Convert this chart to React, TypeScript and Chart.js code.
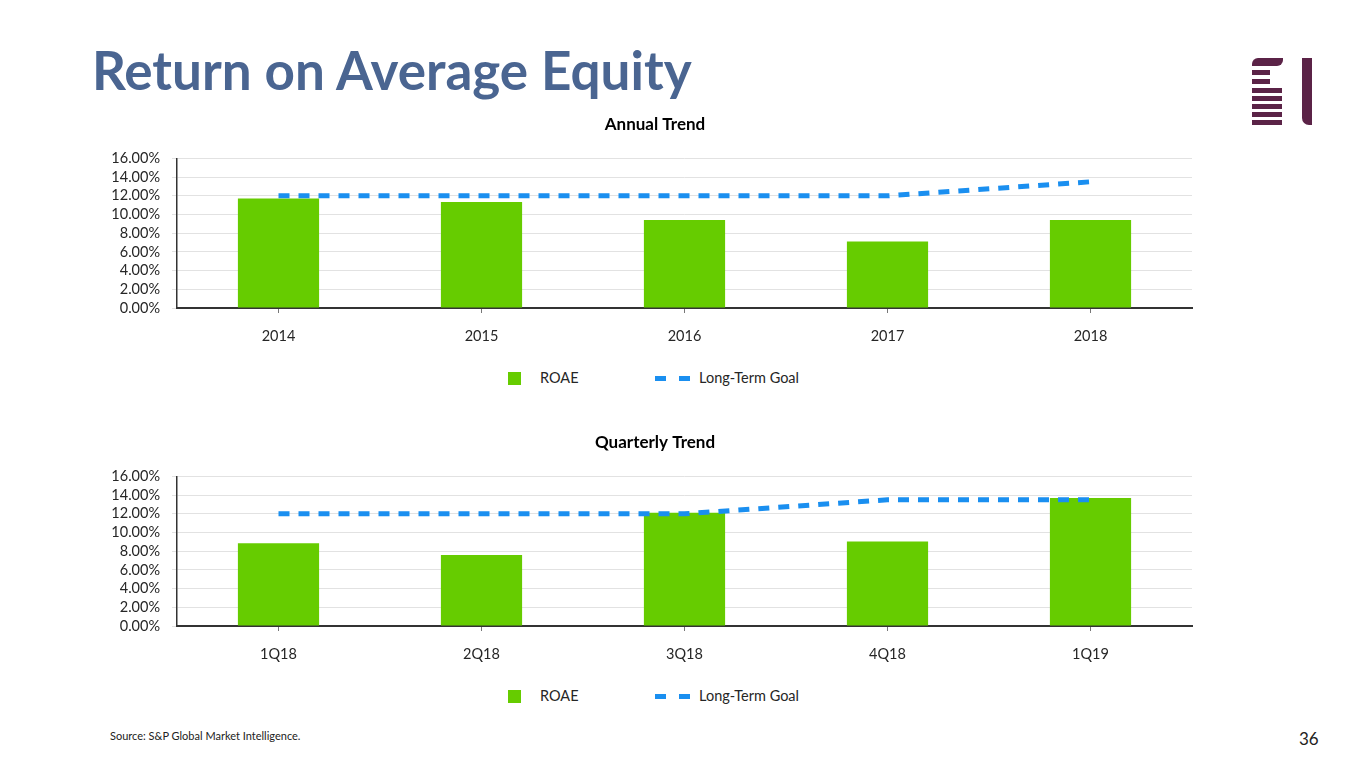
import React, { useEffect, useRef } from "react";
import { Chart, registerables } from "chart.js";

Chart.register(...registerables);

const annualCategories = ["2014", "2015", "2016", "2017", "2018"];
const annualRoae = [11.7, 11.35, 9.4, 7.1, 9.4];
const annualGoal = [12, 12, 12, 12, 13.5];

const quarterCategories = ["1Q18", "2Q18", "3Q18", "4Q18", "1Q19"];
const quarterRoae = [8.85, 7.6, 12.1, 9.05, 13.7];
const quarterGoal = [12, 12, 12, 13.5, 13.5];

const yTickValues = [0, 2, 4, 6, 8, 10, 12, 14, 16];

const FONT = "Lato, 'Open Sans', sans-serif";
const GREEN = "#66cc00";
const BLUE = "#1a8ff0";

type TrendProps = {
  title: string;
  categories: string[];
  roae: number[];
  goal: number[];
  top: number;
};

function Trend({ title, categories, roae, goal, top }: TrendProps) {
  const ref = useRef<HTMLCanvasElement | null>(null);
  useEffect(() => {
    if (!ref.current) return;
    const chart = new Chart(ref.current, {
      type: "bar",
      data: {
        labels: categories,
        datasets: [
          {
            type: "line",
            label: "Long-Term Goal",
            data: goal,
            borderColor: BLUE,
            borderWidth: 5,
            borderDash: [11, 9],
            borderCapStyle: "butt",
            pointRadius: 0,
            tension: 0,
            fill: false,
            order: 0,
          } as any,
          {
            type: "bar",
            label: "ROAE",
            data: roae,
            backgroundColor: GREEN,
            borderWidth: 0,
            categoryPercentage: 1,
            barPercentage: 0.4,
            order: 1,
          } as any,
        ],
      },
      options: {
        animation: false,
        responsive: true,
        maintainAspectRatio: false,
        layout: { padding: { left: 0, right: 0, top: 0, bottom: 0 } },
        plugins: {
          legend: { display: false },
          tooltip: { enabled: false },
          title: {
            display: true,
            text: title,
            color: "#000",
            font: { family: FONT, size: 17, weight: "bold" },
            padding: { top: 4, bottom: 24 },
          },
        },
        scales: {
          x: {
            offset: true,
            grid: {
              display: true,
              drawOnChartArea: false,
              drawTicks: true,
              tickLength: 5,
              offset: false,
              color: "#777",
            },
            border: { display: true, color: "#333", width: 2 },
            ticks: {
              color: "#262626",
              font: { family: FONT, size: 14.5 },
              padding: 15,
            },
            afterFit: (s: any) => {
              s.height = 43;
            },
          },
          y: {
            min: 0,
            max: 16,
            afterBuildTicks: (s: any) => {
              s.ticks = yTickValues.map((v) => ({ value: v }));
            },
            ticks: {
              autoSkip: false,
              color: "#262626",
              font: { family: FONT, size: 14.5 },
              padding: 12,
              callback: (v: any) => Number(v).toFixed(2) + "%",
            },
            grid: { color: "#e2e2e2", tickLength: 5 },
            border: { display: true, color: "#333", width: 1.5 },
            afterFit: (s: any) => {
              s.width = 89;
            },
          },
          spacer: {
            type: "linear",
            position: "right",
            display: true,
            ticks: { display: false },
            grid: { display: false, drawTicks: false },
            border: { display: false },
            afterFit: (s: any) => {
              s.width = 30;
            },
          },
        },
      } as any,
    });
    return () => chart.destroy();
  }, []);
  return (
    <>
      <div style={{ position: "absolute", left: 88, top, width: 1134, height: 241 }}>
        <canvas ref={ref} />
      </div>
      <div
        style={{
          position: "absolute",
          left: 0,
          top: top + 258,
          width: 1365,
          height: 20,
          fontFamily: FONT,
          fontSize: 14.5,
          color: "#262626",
        }}
      >
        <div style={{ position: "absolute", left: 508, top: 4, width: 13, height: 13, background: GREEN }} />
        <div style={{ position: "absolute", left: 540, top: 1 }}>ROAE</div>
        <div style={{ position: "absolute", left: 655, top: 8, width: 11, height: 5, background: BLUE }} />
        <div style={{ position: "absolute", left: 679, top: 8, width: 11, height: 5, background: BLUE }} />
        <div style={{ position: "absolute", left: 699, top: 1 }}>Long-Term Goal</div>
      </div>
    </>
  );
}

function Logo() {
  const c = "#5b2347";
  const bars = [
    { y: 70, w: 18 },
    { y: 79, w: 18 },
    { y: 88, w: 30 },
    { y: 96, w: 30 },
    { y: 104, w: 30 },
    { y: 112, w: 30 },
    { y: 120, w: 30 },
  ];
  return (
    <>
      <div
        style={{
          position: "absolute",
          left: 1252,
          top: 58,
          width: 31,
          height: 8,
          background: c,
          borderTopLeftRadius: 6,
          borderBottomRightRadius: 6,
        }}
      />
      {bars.map((b, i) => (
        <div key={i} style={{ position: "absolute", left: 1252, top: b.y, width: b.w, height: 5, background: c }} />
      ))}
      <div
        style={{
          position: "absolute",
          left: 1302,
          top: 58,
          width: 10,
          height: 67,
          background: c,
          borderBottomLeftRadius: 7,
        }}
      />
    </>
  );
}

export default function App() {
  return (
    <div style={{ position: "relative", width: 1365, height: 768, margin: -8, background: "#fff", overflow: "hidden" }}>
      <div
        style={{
          position: "absolute",
          left: 92,
          top: 37,
          fontFamily: FONT,
          fontWeight: 700,
          fontSize: 53,
          color: "#4a6591",
          whiteSpace: "nowrap",
          lineHeight: "66px",
        }}
      >
        Return on Average Equity
      </div>
      <Logo />
      <Trend title="Annual Trend" categories={annualCategories} roae={annualRoae} goal={annualGoal} top={110} />
      <Trend title="Quarterly Trend" categories={quarterCategories} roae={quarterRoae} goal={quarterGoal} top={428} />
      <div style={{ position: "absolute", left: 110, top: 729, fontFamily: FONT, fontSize: 11, color: "#222" }}>
        Source: S&amp;P Global Market Intelligence.
      </div>
      <div style={{ position: "absolute", left: 1299, top: 728, fontFamily: FONT, fontSize: 17, color: "#222" }}>36</div>
    </div>
  );
}
